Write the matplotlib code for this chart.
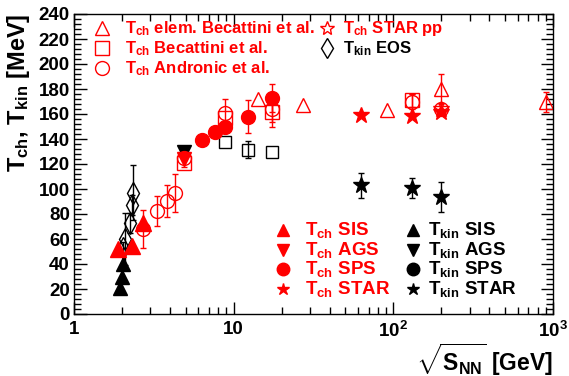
import numpy as np
import matplotlib
matplotlib.use("Agg")
import matplotlib.pyplot as plt
from matplotlib.ticker import FixedLocator, FuncFormatter, MultipleLocator

plt.rcParams['font.family'] = ['Liberation Sans', 'DejaVu Sans']
plt.rcParams['font.weight'] = 'bold'
plt.rcParams['axes.labelweight'] = 'bold'
plt.rcParams['mathtext.fontset'] = 'custom'
plt.rcParams['mathtext.rm'] = 'Liberation Sans:bold'
plt.rcParams['mathtext.bf'] = 'Liberation Sans:bold'
plt.rcParams['mathtext.it'] = 'Liberation Sans:bold'

# ---- data (sqrt(s_NN) in GeV, T in MeV) ----
# T_ch elementary, Becattini et al. (red open triangles)
elem_x = [14.3, 27.3, 91.6, 200.0, 910.0]
elem_T = [172, 167, 163, 180, 170]
elem_e = [0, 0, 0, 12, 8]

# T_ch Becattini et al. (red open squares)
bec_x = [4.86, 8.77, 17.3, 130.0]
bec_T = [121, 157, 162, 171]
bec_e = [3, 0, 12, 5]

# T_ch Andronic et al. (red open circles)
and_x = [2.7, 3.32, 3.84, 4.3, 4.86, 8.77, 17.3, 130.0, 200.0]
and_T = [68, 82.5, 90.5, 97, 125, 161, 164, 170, 164]
and_e = [15, 12, 13, 15, 0, 11, 10, 6, 5]

# T_ch SIS / AGS / SPS / STAR (red filled)
sis_x = [1.89, 2.3, 2.7]
sis_T = [52, 54.5, 73]
ags_x = [4.86]
ags_T = [124]
sps_x = [6.3, 7.6, 8.8, 12.3, 17.3]
sps_T = [139, 146, 149.5, 158, 173]
sps_e = [0, 0, 0, 13, 11]
star_x = [62.4, 130.0, 200.0]
star_T = [159, 158.5, 162]

# T_ch STAR pp (red open star)
pp_x = [200.0]
pp_T = [164]

# T_kin (black filled)
ksis_x = [1.94, 2.0, 2.04]
ksis_T = [20.5, 30, 40]
kags_x = [4.86]
kags_T = [130]
kstar_x = [62.4, 130.0, 200.0]
kstar_T = [103, 101, 94]
kstar_e = [10, 8, 12]

# T_kin EOS (black open diamonds)
eos_x = [2.03, 2.09, 2.23, 2.31, 2.35]
eos_T = [53, 60, 73, 87, 97]
eos_e = [5, 21, 8, 8, 22]

# black open squares (no legend entry)
bsq_x = [8.8, 12.3, 17.3]
bsq_T = [138, 131.5, 129.5]
bsq_e = [0, 7, 0]

RED = '#ff0000'
BLK = '#000000'

fig = plt.figure(figsize=(5.69, 3.76), dpi=100)
ax = fig.add_axes([74 / 569, 1 - 314 / 376, 479 / 569, 300 / 376])


def pts(x, y, err, marker, color, filled, ms):
    x = np.asarray(x, float)
    y = np.asarray(y, float)
    ax.plot(x, y, ls='none', marker=marker, ms=ms, mec=color,
            mfc=color if filled else 'none', mew=1.0, clip_on=False)
    if err is not None:
        e = np.asarray(err, float)
        m = e > 0
        if m.any():
            ax.errorbar(x[m], y[m], yerr=e[m], fmt='none', ecolor=color,
                        elinewidth=1.0, capsize=2.5, capthick=1.0)


pts(bsq_x, bsq_T, bsq_e, 's', BLK, False, 9)
pts(eos_x, eos_T, eos_e, 'd', BLK, False, 11)
pts(ksis_x, ksis_T, None, '^', BLK, True, 10)
pts(kags_x, kags_T, None, 'v', BLK, True, 10)
pts(kstar_x, kstar_T, kstar_e, '*', BLK, True, 12)
pts(sis_x, sis_T, None, '^', RED, True, 11)
pts(ags_x, ags_T, None, 'v', RED, True, 10)
pts(sps_x, sps_T, sps_e, 'o', RED, True, 10)
pts(star_x, star_T, None, '*', RED, True, 12)
pts(elem_x, elem_T, elem_e, '^', RED, False, 10)
pts(bec_x, bec_T, bec_e, 's', RED, False, 10)
pts(and_x, and_T, and_e, 'o', RED, False, 10)
pts(pp_x, pp_T, None, '*', RED, False, 12)

ax.set_xscale('log')
ax.set_xlim(1, 1000)
ax.set_ylim(0, 240)

ax.xaxis.set_major_locator(FixedLocator([1, 10, 100, 1000]))
ax.xaxis.set_minor_locator(FixedLocator([k * 10 ** d for d in range(3) for k in range(2, 10)]))
xlab = {1: '1', 10: '10', 100: '$10^{2}$', 1000: '$10^{3}$'}
ax.xaxis.set_major_formatter(FuncFormatter(lambda v, p: xlab.get(int(round(v)), '')))
ax.yaxis.set_major_locator(MultipleLocator(20))
ax.yaxis.set_minor_locator(MultipleLocator(4))

ax.tick_params(which='both', direction='in', top=True, right=True, width=1, labelsize=13.5)
ax.tick_params(which='major', length=9)
ax.tick_params(which='minor', length=5)
ax.tick_params(axis='y', pad=3)
ax.tick_params(axis='x', pad=5)
for s in ax.spines.values():
    s.set_linewidth(1.0)

ax.set_ylabel(r'T$_{\rm ch}$, T$_{\rm kin}$ [MeV]', fontsize=17, fontweight='bold',
              loc='top', labelpad=5)
ax.set_xlabel(r'$\sqrt{\rm S_{NN}}$ [GeV]', fontsize=16.5, fontweight='bold',
              loc='right', labelpad=0)

# legends, hand placed as in the original
leg_top_left = [('^', RED, False, r'T$_{\rm ch}$ elem. Becattini et al.'),
                ('s', RED, False, r'T$_{\rm ch}$ Becattini et al.'),
                ('o', RED, False, r'T$_{\rm ch}$ Andronic et al.')]
leg_top_right = [('*', RED, False, r'T$_{\rm ch}$ STAR pp', RED),
                 ('d', BLK, False, r'T$_{\rm kin}$ EOS', BLK)]
leg_bot = [('^', 'SIS'), ('v', 'AGS'), ('o', 'SPS'), ('*', 'STAR')]


def entry(mx, tx, y, marker, color, filled, label, tcolor, ms=10, fs=12):
    ax.plot([mx], [y + 0.017], transform=ax.transAxes, ls='none', marker=marker,
            ms=ms, mec=color, mfc=color if filled else 'none', mew=1.0, clip_on=False)
    ax.text(tx, y, label, transform=ax.transAxes, color=tcolor, fontsize=fs,
            va='baseline', ha='left')


for i, (mk, col, fil, lab) in enumerate(leg_top_left):
    entry(0.058, 0.106, 0.936 - i * 0.066, mk, col, fil, lab, RED, fs=12)
for i, (mk, col, fil, lab, tc) in enumerate(leg_top_right):
    entry(0.528, 0.562, 0.936 - i * 0.066, mk, col, fil, lab, tc, fs=12)
for i, (mk, name) in enumerate(leg_bot):
    y = 0.263 - i * 0.065
    entry(0.436, 0.482, y, mk, RED, True, r'T$_{\rm ch}$ ' + name, RED, ms=9, fs=13.5)
    entry(0.708, 0.738, y, mk, BLK, True, r'T$_{\rm kin}$ ' + name, BLK, ms=9, fs=13.5)

fig.savefig('out.png', dpi=100)
